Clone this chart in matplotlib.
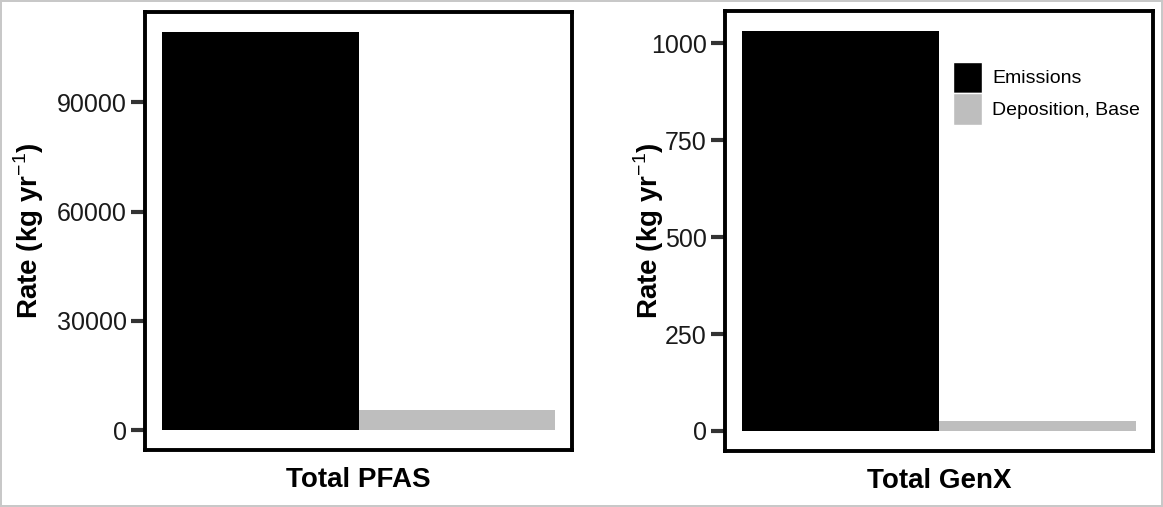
import matplotlib
matplotlib.use("Agg")
import matplotlib.pyplot as plt
from matplotlib.patches import Patch

plt.rcParams["font.family"] = ["Liberation Sans", "DejaVu Sans"]
plt.rcParams["mathtext.fontset"] = "custom"
plt.rcParams["mathtext.rm"] = "Liberation Sans"
plt.rcParams["mathtext.bf"] = "Liberation Sans:bold"

# data
categories = ["Total PFAS", "Total GenX"]
emissions = [109300, 1032]
deposition = [5400, 26]
yticks = [[0, 30000, 60000, 90000], [0, 250, 500, 750, 1000]]
series_names = ["Emissions", "Deposition, Base"]
series_colors = ["black", "#bebebe"]

fig = plt.figure(figsize=(11.63, 5.07), dpi=100)
fig.patch.set_edgecolor("#c8c8c8")
fig.patch.set_linewidth(1.5)

axes_rects = [
    [145 / 1163, 57 / 507, 427 / 1163, 438 / 507],
    [725 / 1163, 56 / 507, 428 / 1163, 440 / 507],
]
ylabel_x = [-0.232, -0.138]

for i, cat in enumerate(categories):
    ax = fig.add_axes(axes_rects[i])
    vals = [emissions[i], deposition[i]]
    ax.bar([0, 1], vals, width=1.0, color=series_colors, linewidth=0)
    top = max(vals)
    ax.set_ylim(-0.05 * top, 1.05 * top)
    ax.set_xlim(-0.587, 1.587)
    ax.set_yticks(yticks[i])
    ax.set_yticklabels([str(t) for t in yticks[i]])
    ax.set_xticks([])
    ax.tick_params(axis="y", length=10, width=3, color="#333333",
                   labelsize=18, pad=3, labelcolor="#1a1a1a")
    for sp in ax.spines.values():
        sp.set_linewidth(2.8)
        sp.set_color("black")
    ax.set_xlabel(cat, fontsize=20, fontweight="bold", labelpad=12)
    ax.set_ylabel(r"Rate (kg yr$^{-1}$)", fontsize=20, fontweight="bold")
    ax.yaxis.set_label_coords(ylabel_x[i], 0.5)

    if i == 1:
        handles = [Patch(facecolor=c, edgecolor="white", linewidth=1)
                   for c in series_colors]
        ax.legend(handles, series_names, loc="upper left",
                  bbox_to_anchor=(0.533, 0.885), frameon=False, fontsize=14,
                  borderpad=0, borderaxespad=0, labelspacing=0,
                  handlelength=1.5, handleheight=2.12, handletextpad=0.52)

fig.savefig("out.png", dpi=100)
